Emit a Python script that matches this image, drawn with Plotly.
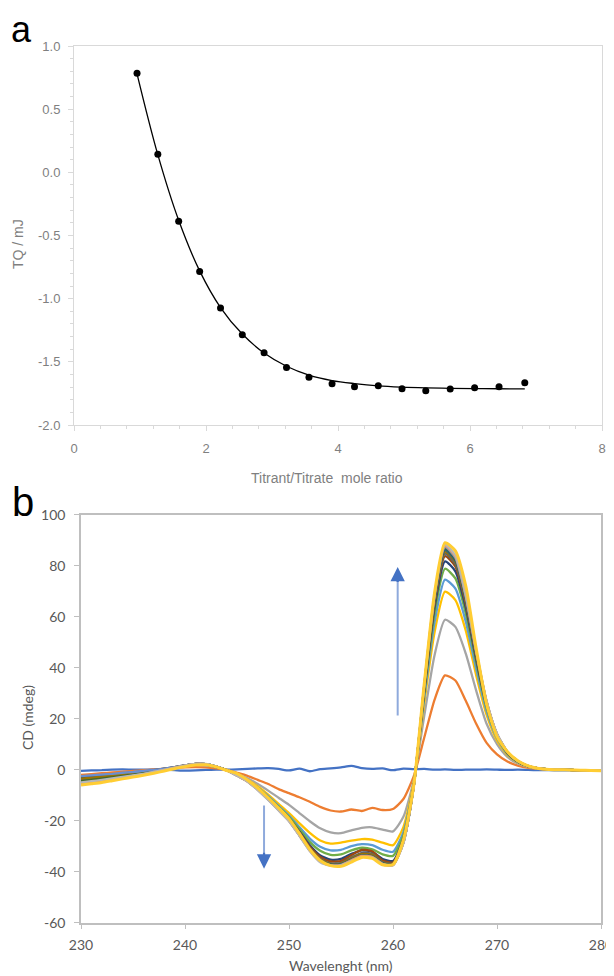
import plotly.graph_objects as go

# ---------------- Panel a data (ITC) ----------------
ratio = [0.955, 1.27, 1.586, 1.904, 2.22, 2.55, 2.88, 3.22, 3.56, 3.91,
         4.25, 4.61, 4.97, 5.33, 5.70, 6.07, 6.44, 6.83]
tq = [0.784, 0.143, -0.388, -0.784, -1.074, -1.286, -1.428, -1.544, -1.623, -1.674,
      -1.697, -1.689, -1.713, -1.729, -1.716, -1.705, -1.697, -1.666]
tq_fit = [0.78, 0.14, -0.38, -0.78, -1.07, -1.28, -1.43, -1.535, -1.605, -1.648,
          -1.672, -1.69, -1.70, -1.706, -1.71, -1.712, -1.713, -1.714]
tq_ticks = [1.0, 0.5, 0.0, -0.5, -1.0, -1.5, -2.0]
tq_ticktext = ["1.0", "0.5", "0.0", "-0.5", "-1.0", "-1.5", "-2.0"]

# ---------------- Panel b data (CD spectra) ----------------
wavelength = list(range(230, 281))
cd_ticks = [100, 80, 60, 40, 20, 0, -20, -40, -60]
cd_ticktext = ["100", "80", "60", "40", "20", "0", "-20", "-40", "-60"]

cd_s1 = [-0.5, -0.3, -0.2, 0.0, 0.1, 0.0, 0.0, 0.1, 0.0, -0.2, -0.4, -0.3, -0.1, 0.0, 0.0,
         0.1, 0.3, 0.5, 0.6, 0.3, -0.3, 0.4, -0.6, 0.2, 0.5, 0.9, 1.5, 0.6, 0.3, 0.5, -0.2, 0.4, 0.2,
         0.3, 0.0, 0.1, -0.1, 0.0, 0.0, 0.1, 0.0, -0.1, 0.0, -0.1, -0.2, -0.2, -0.3, -0.3, -0.3, -0.4, -0.4]
cd_s2 = [-2.0, -1.7, -1.4, -1.1, -0.8, -0.5, -0.2, 0.1, 0.4, 0.7, 0.9, 1.0, 0.9, 0.5, -0.1,
         -1.2, -2.4, -4.0, -5.6, -7.6, -9.2, -10.8, -12.6, -14.6, -16.0, -16.4, -15.6, -16.2, -15.0, -15.8, -15.4, -11.5, -2.5,
         12.5, 27.5, 37.0, 35.0, 27.0, 18.0, 10.5, 6.0, 3.2, 1.6, 0.7, 0.3, 0.1, 0.0, -0.1, -0.2, -0.3, -0.3]
cd_s3 = [-3.0, -2.6, -2.2, -1.8, -1.4, -1.0, -0.6, -0.2, 0.3, 0.9, 1.5, 2.0, 1.9, 1.1, -0.1,
         -1.6, -3.4, -5.6, -8.2, -11.0, -13.8, -17.0, -20.2, -23.0, -24.6, -24.9, -23.8, -22.8, -22.6, -23.5, -24.2, -18.5, -4.0,
         21.0, 45.0, 58.8, 56.0, 45.5, 31.0, 18.0, 10.0, 5.0, 2.4, 1.1, 0.4, 0.1, 0.0, -0.1, -0.2, -0.3, -0.4]
cd_s4 = [-4.0, -3.6, -3.1, -2.6, -2.1, -1.6, -1.1, -0.5, 0.2, 0.9, 1.6, 2.1, 2.0, 1.2, -0.1,
         -1.8, -3.9, -6.6, -9.8, -13.4, -17.0, -21.0, -24.8, -27.8, -29.0, -28.6, -27.8, -27.2, -27.4, -28.6, -29.6, -22.5, -5.0,
         26.0, 54.0, 69.8, 66.5, 54.5, 37.0, 21.5, 11.5, 5.8, 2.8, 1.2, 0.5, 0.1, 0.0, -0.1, -0.2, -0.3, -0.4]
cd_s5 = [-3.5, -3.1, -2.7, -2.3, -1.9, -1.5, -1.0, -0.5, 0.1, 0.8, 1.4, 1.9, 1.8, 1.0, -0.2,
         -2.0, -4.1, -7.0, -10.4, -14.2, -18.0, -22.5, -27.0, -30.2, -31.6, -31.4, -30.0, -29.2, -29.6, -31.4, -32.2, -24.5, -5.5,
         28.0, 58.0, 74.5, 71.0, 58.0, 39.5, 23.0, 12.3, 6.2, 3.0, 1.3, 0.5, 0.1, 0.0, -0.1, -0.2, -0.3, -0.4]
cd_s6 = [-4.5, -4.0, -3.5, -3.0, -2.5, -2.0, -1.4, -0.8, -0.1, 0.7, 1.5, 2.1, 2.0, 1.1, -0.2,
         -2.0, -4.2, -7.2, -10.7, -14.6, -18.5, -23.3, -28.3, -31.8, -33.4, -33.2, -31.6, -30.6, -31.2, -33.2, -33.8, -25.8, -5.7,
         29.5, 61.5, 78.8, 75.0, 61.3, 41.8, 24.2, 12.8, 6.4, 3.1, 1.3, 0.5, 0.1, 0.0, -0.1, -0.2, -0.3, -0.4]
cd_s7 = [-3.0, -2.7, -2.3, -1.9, -1.5, -1.1, -0.7, -0.2, 0.4, 1.0, 1.7, 2.2, 2.0, 1.1, -0.2,
         -2.1, -4.3, -7.4, -11.0, -15.0, -19.0, -24.2, -29.6, -33.6, -35.3, -35.0, -33.0, -31.6, -32.2, -35.0, -35.8, -27.0, -6.0,
         30.5, 63.8, 81.7, 77.8, 63.5, 43.3, 25.0, 13.2, 6.6, 3.2, 1.4, 0.5, 0.1, 0.0, -0.1, -0.2, -0.3, -0.4]
cd_s8 = [-5.0, -4.5, -3.9, -3.3, -2.7, -2.1, -1.5, -0.8, 0.0, 0.8, 1.6, 2.2, 2.1, 1.2, -0.2,
         -2.1, -4.3, -7.5, -11.2, -15.2, -19.3, -24.6, -30.2, -34.2, -36.0, -35.8, -33.5, -31.4, -32.0, -35.6, -36.4, -27.6, -6.0,
         31.2, 65.3, 83.7, 79.7, 65.0, 44.3, 25.6, 13.5, 6.7, 3.3, 1.4, 0.5, 0.1, 0.0, -0.1, -0.2, -0.3, -0.4]
cd_s9 = [-4.0, -3.6, -3.1, -2.6, -2.1, -1.6, -1.1, -0.5, 0.2, 0.9, 1.7, 2.3, 2.2, 1.2, -0.2,
         -2.2, -4.4, -7.6, -11.3, -15.4, -19.6, -25.0, -30.7, -34.9, -36.7, -36.6, -34.4, -32.6, -33.0, -36.2, -36.8, -28.0, -6.2,
         31.6, 66.0, 84.7, 80.6, 65.8, 44.8, 25.9, 13.6, 6.8, 3.3, 1.4, 0.5, 0.1, 0.0, -0.1, -0.2, -0.3, -0.4]
cd_s10 = [-3.5, -3.1, -2.7, -2.2, -1.8, -1.3, -0.8, -0.3, 0.3, 1.0, 1.7, 2.3, 2.2, 1.2, -0.2,
          -2.2, -4.4, -7.6, -11.4, -15.5, -19.7, -25.2, -31.0, -35.2, -36.9, -36.8, -34.8, -33.1, -33.4, -36.4, -37.0, -28.2, -6.2,
          32.0, 66.7, 85.5, 81.4, 66.4, 45.2, 26.1, 13.7, 6.8, 3.3, 1.4, 0.5, 0.1, 0.0, -0.1, -0.2, -0.3, -0.4]
cd_s11 = [-5.0, -4.5, -3.9, -3.3, -2.7, -2.1, -1.5, -0.8, 0.0, 0.8, 1.6, 2.3, 2.2, 1.2, -0.2,
          -2.2, -4.4, -7.7, -11.5, -15.6, -19.8, -25.4, -31.3, -35.5, -37.1, -37.0, -35.2, -33.6, -33.9, -36.6, -37.2, -28.4, -6.3,
          32.3, 67.2, 86.2, 82.0, 66.9, 45.5, 26.3, 13.8, 6.9, 3.3, 1.4, 0.5, 0.1, 0.0, -0.1, -0.2, -0.3, -0.4]
cd_s12 = [-4.5, -4.0, -3.5, -3.0, -2.5, -1.9, -1.3, -0.7, 0.0, 0.8, 1.6, 2.3, 2.2, 1.2, -0.2,
          -2.3, -4.5, -7.8, -11.6, -15.7, -19.9, -25.6, -31.5, -35.8, -37.3, -37.2, -35.4, -33.8, -34.1, -36.8, -37.3, -28.5, -6.3,
          32.6, 67.7, 86.8, 82.5, 67.3, 45.8, 26.5, 13.9, 6.9, 3.3, 1.4, 0.5, 0.1, 0.0, -0.1, -0.2, -0.3, -0.4]
cd_s13 = [-2.5, -2.2, -1.9, -1.6, -1.2, -0.9, -0.5, -0.1, 0.4, 1.0, 1.7, 2.3, 2.2, 1.2, -0.2,
          -2.3, -4.5, -7.8, -11.7, -15.8, -20.0, -25.7, -31.6, -35.9, -37.4, -37.3, -35.6, -34.0, -34.3, -36.9, -37.4, -28.6, -6.4,
          32.8, 68.1, 87.3, 83.0, 67.7, 46.1, 26.6, 14.0, 7.0, 3.4, 1.4, 0.5, 0.1, 0.0, -0.1, -0.2, -0.3, -0.4]
cd_s14 = [-5.5, -5.0, -4.4, -3.8, -3.1, -2.4, -1.7, -0.9, -0.1, 0.8, 1.6, 2.3, 2.2, 1.2, -0.3,
          -2.4, -4.6, -7.9, -11.8, -15.9, -20.1, -25.8, -31.8, -36.1, -37.5, -37.4, -35.5, -33.8, -34.2, -37.0, -37.5, -28.7, -6.4,
          33.0, 68.5, 87.8, 83.5, 68.1, 46.3, 26.8, 14.0, 7.0, 3.4, 1.4, 0.5, 0.1, 0.0, -0.1, -0.2, -0.3, -0.4]
cd_s15 = [-5.0, -4.5, -4.0, -3.4, -2.8, -2.2, -1.6, -0.9, -0.1, 0.7, 1.6, 2.3, 2.3, 1.3, -0.3,
          -2.4, -4.6, -8.0, -11.9, -16.0, -20.2, -25.9, -31.9, -36.3, -37.6, -37.5, -35.8, -34.2, -34.5, -37.1, -37.5, -28.8, -6.4,
          33.2, 68.9, 88.3, 84.0, 68.5, 46.6, 26.9, 14.1, 7.1, 3.4, 1.5, 0.5, 0.1, 0.0, -0.1, -0.2, -0.3, -0.4]
cd_s16 = [-6.0, -5.5, -5.0, -4.3, -3.6, -2.9, -2.2, -1.4, -0.5, 0.4, 1.2, 1.8, 1.9, 1.1, -0.3,
          -1.5, -4.0, -7.2, -11.0, -15.0, -19.2, -25.0, -31.2, -35.6, -37.6, -37.9, -36.2, -34.4, -34.8, -37.3, -37.2, -27.5, -6.0,
          33.5, 69.5, 89.0, 85.8, 72.0, 47.5, 25.5, 13.0, 7.0, 3.5, 1.5, 0.5, 0.1, 0.0, -0.1, -0.2, -0.3, -0.4]

cd_series = [cd_s1, cd_s2, cd_s3, cd_s4, cd_s5, cd_s6, cd_s7, cd_s8,
             cd_s9, cd_s10, cd_s11, cd_s12, cd_s13, cd_s14, cd_s15, cd_s16]
cd_colors = ["#4472C4", "#ED7D31", "#A5A5A5", "#FFC000", "#5B9BD5", "#70AD47",
             "#264478", "#9E480E", "#636363", "#997300", "#255E91", "#43682B",
             "#698ED0", "#F1975A", "#B7B7B7", "#FFCD33"]

# ---------------- Figure ----------------
# The page body adds an 8 px margin, so the figure is drawn 8 px smaller
# and all screen-pixel positions are shifted by that offset.
OFF = 8
W, H = 614 - OFF, 976 - OFF
fig = go.Figure()

# Panel a
fig.add_trace(go.Scatter(x=ratio, y=tq_fit, mode="lines", line=dict(color="black", width=1.3, shape="spline"),
                         xaxis="x", yaxis="y", showlegend=False, hoverinfo="skip"))
fig.add_trace(go.Scatter(x=ratio, y=tq, mode="markers", marker=dict(color="black", size=7),
                         xaxis="x", yaxis="y", showlegend=False))

# Panel b
for i, (vals, col) in enumerate(zip(cd_series, cd_colors)):
    fig.add_trace(go.Scatter(x=wavelength, y=vals, mode="lines",
                             line=dict(color=col, width=3.0 if i == len(cd_series) - 1 else 2.3,
                                       shape="spline", smoothing=0.6),
                             xaxis="x2", yaxis="y2", showlegend=False))


def px_x(p):
    return (p - OFF) / W


def px_y(p):
    return 1 - (p - OFF) / H


top_font = dict(family="Liberation Sans, Arial, sans-serif", size=13, color="#7f7f7f")
bot_font = dict(family="Lato, Noto Sans, sans-serif", size=14, color="#595959")

fig.update_layout(
    width=W, height=H,
    margin=dict(l=0, r=0, t=0, b=0, autoexpand=False),
    paper_bgcolor="white", plot_bgcolor="white",
    xaxis=dict(domain=[px_x(74), px_x(602)], range=[0, 8], dtick=2, tick0=0,
               showline=True, linecolor="#d9d9d9", linewidth=1, mirror=True,
               ticks="outside", ticklen=5, tickcolor="#d9d9d9", tickfont=top_font,
               ticklabelstandoff=6, automargin=False,
               minor=dict(dtick=0.4, ticks="outside", ticklen=3, tickcolor="#d9d9d9"),
               showgrid=False, zeroline=False, anchor="y"),
    yaxis=dict(domain=[px_y(425), px_y(46)], range=[-2, 1],
               tickmode="array", tickvals=tq_ticks, ticktext=tq_ticktext,
               showline=True, linecolor="#d9d9d9", linewidth=1, mirror=True,
               ticks="outside", ticklen=5, tickcolor="#d9d9d9", tickfont=top_font,
               ticklabelstandoff=5, automargin=False,
               minor=dict(dtick=0.1, tick0=0, ticks="outside", ticklen=3, tickcolor="#d9d9d9"),
               showgrid=False, zeroline=False, anchor="x"),
    xaxis2=dict(domain=[px_x(81), px_x(601)], range=[230, 280], dtick=10, tick0=230,
                showline=True, linecolor="#bfbfbf", linewidth=1.5, mirror=True,
                ticks="outside", ticklen=5, tickcolor="#bfbfbf", tickfont=bot_font,
                ticklabelstandoff=4, automargin=False,
                showgrid=False, zeroline=False, anchor="y2"),
    yaxis2=dict(domain=[px_y(922.7), px_y(514.7)], range=[-60, 100],
                tickmode="array", tickvals=cd_ticks, ticktext=cd_ticktext,
                showline=True, linecolor="#bfbfbf", linewidth=1.5, mirror=True,
                ticks="outside", ticklen=5, tickcolor="#bfbfbf", tickfont=bot_font,
                ticklabelstandoff=6, automargin=False,
                showgrid=False, zeroline=False, anchor="x2"),
)

annotations = [
    dict(text="a", x=px_x(21.5), y=px_y(29.5), xref="paper", yref="paper", xanchor="center", yanchor="middle",
         showarrow=False, borderpad=0,
         font=dict(family="Liberation Sans, Arial, sans-serif", size=36, color="black")),
    dict(text="b", x=px_x(22.5), y=px_y(502), xref="paper", yref="paper", xanchor="center", yanchor="middle",
         showarrow=False, borderpad=0,
         font=dict(family="Liberation Sans, Arial, sans-serif", size=40, color="black")),
    dict(text="TQ / mJ", x=px_x(18), y=px_y(244), xref="paper", yref="paper", textangle=-90,
         xanchor="center", yanchor="middle",
         showarrow=False, font=dict(family="Liberation Sans, Arial, sans-serif", size=14, color="#7f7f7f")),
    dict(text="Titrant/Titrate  mole ratio", x=px_x(327), y=px_y(478), xref="paper", yref="paper",
         xanchor="center", yanchor="middle",
         showarrow=False, font=dict(family="Liberation Sans, Arial, sans-serif", size=14, color="#7f7f7f")),
    dict(text="CD (mdeg)", x=px_x(27), y=px_y(718), xref="paper", yref="paper", textangle=-90,
         xanchor="center", yanchor="middle",
         showarrow=False, font=dict(family="Lato, Noto Sans, sans-serif", size=14, color="#595959")),
    dict(text="Wavelenght (nm)", x=px_x(341), y=px_y(965), xref="paper", yref="paper",
         xanchor="center", yanchor="middle",
         showarrow=False, font=dict(family="Lato, Noto Sans, sans-serif", size=14, color="#595959")),
    # arrow heads
    dict(text="", x=260.45, y=79.5, ax=260.45, ay=73, xref="x2", yref="y2", axref="x2", ayref="y2",
         showarrow=True, arrowhead=2, arrowsize=1.3, arrowwidth=2.2, arrowcolor="#4472C4", standoff=0),
    dict(text="", x=247.6, y=-38.8, ax=247.6, ay=-32, xref="x2", yref="y2", axref="x2", ayref="y2",
         showarrow=True, arrowhead=2, arrowsize=1.3, arrowwidth=2.2, arrowcolor="#4472C4", standoff=0),
]
fig.update_layout(annotations=annotations)

shapes = [
    dict(type="line", xref="x2", yref="y2", x0=260.45, x1=260.45, y0=21.3, y1=76,
         line=dict(color="#8FAADC", width=2)),
    dict(type="line", xref="x2", yref="y2", x0=247.6, x1=247.6, y0=-14, y1=-35,
         line=dict(color="#8FAADC", width=2)),
]
fig.update_layout(shapes=shapes)

fig.write_html("out.html")
